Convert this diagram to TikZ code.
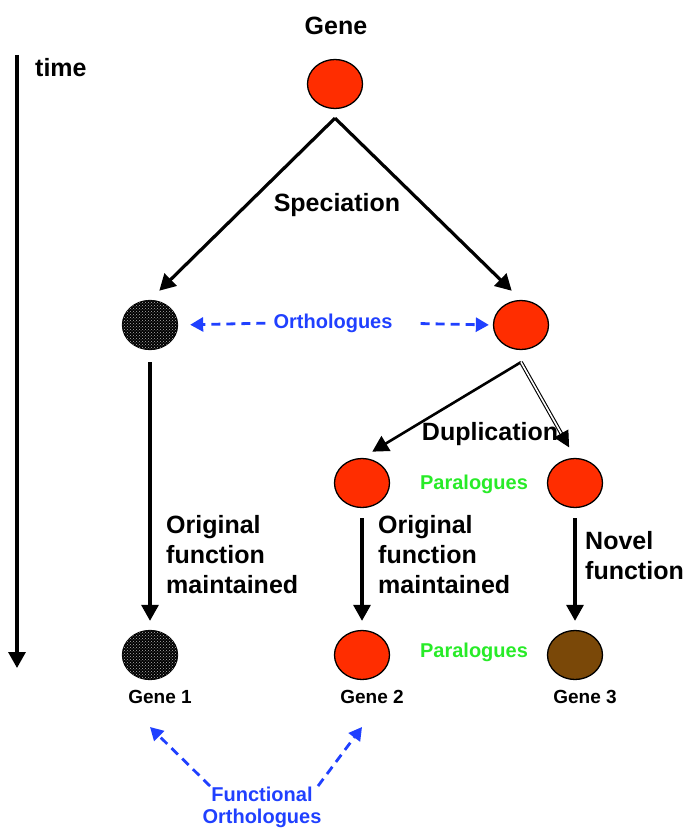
\documentclass[tikz,border=0pt]{standalone}
\usepackage{fontspec}
\setmainfont{Liberation Sans}
\usetikzlibrary{shapes.geometric,arrows.meta,patterns}
\definecolor{genered}{RGB}{255,45,0}
\definecolor{genebrown}{RGB}{122,72,8}
\definecolor{orthblue}{RGB}{32,64,255}
\definecolor{paragreen}{RGB}{40,235,40}
\tikzset{
  gene/.style={ellipse, draw=black, line width=1.3pt, minimum width=55pt, minimum height=49pt, inner sep=0pt},
  redgene/.style={gene, fill=genered},
  blackgene/.style={gene, fill=black, postaction={pattern=crosshatch dots, pattern color=white!70!black}},
  browngene/.style={gene, fill=genebrown},
  big/.style={font=\bfseries\fontsize{25}{30}\selectfont, inner sep=0pt},
  mid/.style={font=\bfseries\fontsize{20}{22}\selectfont, inner sep=0pt},
  small/.style={font=\bfseries\fontsize{19}{22}\selectfont, inner sep=0pt},
  arr/.style={line width=3.2pt, -{Triangle[length=16pt,width=17pt]}},
  dblarr/.style={line width=1.1pt, double=white, double distance=1.6pt, -{Triangle[length=16pt,width=16pt]}},
  darr/.style={orthblue, line width=2.8pt, dash pattern=on 9pt off 6pt, -{Triangle[length=13pt,width=14pt]}},
}
\begin{document}
\begin{tikzpicture}[x=1pt,y=-1pt]
\useasboundingbox (0,0) rectangle (685,829);
% genes
\node[redgene] (g0) at (335,84) {};
\node[blackgene] (l1) at (150,325) {};
\node[redgene] (r1) at (521,325) {};
\node[redgene] (d1) at (362,483) {};
\node[redgene] (d2) at (575,483) {};
\node[blackgene] (b1) at (150,655) {};
\node[redgene] (b2) at (362,655) {};
\node[browngene] (b3) at (575,655) {};
% labels
\node[big] (genelab) at (336,26) {Gene};
\node[big, anchor=west] (timelab) at (35,68) {time};
\node[big] (spec) at (337,205) {Speciation};
\node[mid, text=orthblue] (orth) at (333,323) {Orthologues};
\node[big] (dup) at (490,434) {Duplication};
\node[mid, text=paragreen] (para1) at (474,484) {Paralogues};
\node[mid, text=paragreen] (para2) at (474,652) {Paralogues};
\node[big, anchor=west, align=left] (of1) at (166,555) {Original\\function\\maintained};
\node[big, anchor=west, align=left] (of2) at (378,555) {Original\\function\\maintained};
\node[big, anchor=west, align=left] (nf) at (585,556) {Novel\\function};
\node[small] (gn1) at (160,697) {Gene 1};
\node[small] (gn2) at (372,697) {Gene 2};
\node[small] (gn3) at (585,697) {Gene 3};
\node[mid, text=orthblue, align=center] (fo) at (262,807) {Functional\\Orthologues};
% apex points
\coordinate (apex0) at ([yshift=-9pt]g0.south);
\coordinate (apex1) at ([yshift=-12pt]r1.south);
% time arrow
\coordinate (t0) at (17,55);
\coordinate (t1) at (17,668);
\draw[arr] (t0) -- (t1);
% speciation
\draw[arr, shorten >=13pt] (apex0) -- (l1.north);
\draw[arr, shorten >=13pt] (apex0) -- (r1.north);
% orthologues
\draw[darr, shorten <=8pt, shorten >=12pt] (orth.west) -- (l1.east);
\draw[darr, shorten <=28pt, shorten >=4pt] (orth.east) -- (r1.west);
% duplication
\draw[arr, line width=2.6pt, shorten >=12pt] (apex1) -- (d1.north);
\draw[dblarr, shorten >=12pt] (apex1) -- (d2.north);
% vertical descent
\draw[arr, shorten <=12pt, shorten >=9pt] (l1.south) -- (b1.north);
\draw[arr, shorten <=10pt, shorten >=9pt] (d1.south) -- (b2.north);
\draw[arr, shorten <=10pt, shorten >=9pt] (d2.south) -- (b3.north);
% functional orthologues
\coordinate (fa1) at (210,786);
\coordinate (fa1e) at (150,727);
\coordinate (fa2) at (318,786);
\coordinate (fa2e) at (362,727);
\draw[darr] (fa1) -- (fa1e);
\draw[darr] (fa2) -- (fa2e);
\end{tikzpicture}
\end{document}
